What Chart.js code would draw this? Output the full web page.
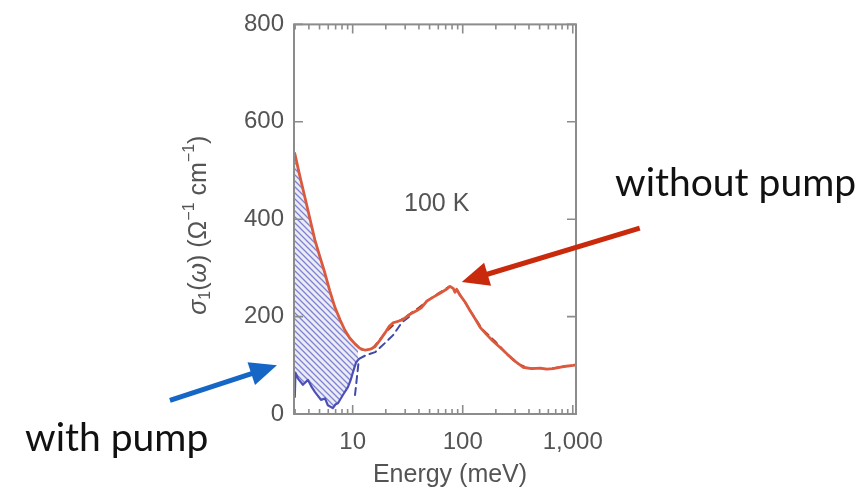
<!DOCTYPE html>
<html>
<head>
<meta charset="utf-8">
<script src="https://cdn.jsdelivr.net/npm/chart.js@4.4.1/dist/chart.umd.min.js"></script>
<style>
  html, body { margin: 0; padding: 0; background: #fff; }
  canvas { display: block; }
</style>
</head>
<body>
<canvas id="c" width="867" height="493"></canvas>
<script>
// Real part of the optical conductivity at 100 K, with and without the pump pulse.

// Without pump: measured spectrum (meV, Ω⁻¹ cm⁻¹)
const energyOff = [2.98, 3.3, 3.68, 4.1, 4.54, 5.05, 5.6, 6.2, 6.9, 7.7, 8.5, 9.4, 10.5, 11.6, 13, 14.5, 15.9, 17.5, 19.6, 21.5, 23.2, 25.5, 28.1, 31, 34.5, 38, 42, 47.3, 54, 62.2, 70, 76.7, 82, 85, 88, 94.5, 105, 116, 130, 144, 165, 188, 220, 253, 300, 353, 420, 505, 580, 662, 800, 1007, 1070];
const sigmaOff  = [535, 490, 445, 400, 357, 322, 289, 253, 219, 193, 172, 156, 144, 135, 131, 133, 138, 150, 166, 180, 187, 190, 193, 200, 207, 212, 218, 232, 240, 248, 255, 262, 258, 250, 256, 244, 230, 213, 195, 178, 163, 150, 136, 123, 108, 96, 93, 94, 92, 93, 97, 100, 101];

// Without pump: model fit
const energyOffFit = [2.98, 3.5, 4, 4.5, 5, 6, 7, 8, 9, 10, 11, 12, 13, 15, 20, 25, 30, 40, 50, 60, 75, 90, 110, 150, 200, 300, 400, 600, 1000, 1070];
const sigmaOffFit  = [522, 452, 402, 356, 316, 250, 207, 178, 158, 144, 136, 132, 131, 134, 168, 188, 199, 219, 236, 248, 262, 253, 222, 175, 148, 106, 94, 93, 100, 101];

// With pump: measured spectrum
const energyOn = [2.98, 3.02, 3.2, 3.53, 3.93, 4.25, 4.55, 5.15, 5.6, 5.95, 6.6, 7.0, 7.35, 8.15, 9.05, 9.6, 10, 10.7, 11.2];
const sigmaOn  = [35, 85, 72, 60, 70, 55, 45, 29, 32, 18, 12, 20, 22, 39, 55, 70, 84, 105, 111];

// With pump: model fit
const energyOnFit = [10.5, 11.4, 13, 16, 19.5, 23.3, 28, 35];
const sigmaOnFit  = [39, 113, 120, 127, 145, 162, 188, 205];

// Axis ticks and labels
const yTicks = [0, 200, 400, 600, 800];
const xMajorTicks = [10, 100, 1000];
const xTickLabels = ['10', '100', '1,000'];
const xMinorTicks = [3, 4, 5, 6, 7, 8, 9, 20, 30, 40, 50, 60, 70, 80, 90, 200, 300, 400, 500, 600, 700, 800, 900];
const xTitle = 'Energy (meV)';
const yTitleParts = [
  { t: 'σ', italic: true },
  { t: '1', sub: true },
  { t: '(' },
  { t: 'ω', italic: true },
  { t: ') (Ω' },
  { t: '−1', sup: true },
  { t: ' cm' },
  { t: '−1', sup: true },
  { t: ')' }
];
const tempLabel = '100 K';
const tempAnchor = { x: 58, y: 431 };
const labelOff = 'without pump';
const labelOn = 'with pump';
const arrowOffTip = { x: 98, y: 271 };
const arrowOnTip = { x: 2.05, y: 100 };

const AXIS_FONT = '"Liberation Sans", Arial, Helvetica, sans-serif';
const NOTE_FONT = 'Lato, "Open Sans", sans-serif';
const AXIS_COLOR = '#545454';

const pts = (xs, ys) => xs.map((x, i) => ({ x, y: ys[i] }));

// Diagonal hatch used for the region between the two spectra
function makeHatch() {
  const s = 6;
  const c = document.createElement('canvas');
  c.width = s; c.height = s;
  const g = c.getContext('2d');
  g.fillStyle = 'rgba(236,236,248,1)';
  g.fillRect(0, 0, s, s);
  g.strokeStyle = 'rgba(108,112,196,0.85)';
  g.lineWidth = 1.3;
  g.beginPath();
  g.moveTo(-1, -1); g.lineTo(s + 1, s + 1);
  g.moveTo(-1, s - 1); g.lineTo(1, s + 1);
  g.moveTo(s - 1, -1); g.lineTo(s + 1, 1);
  g.stroke();
  return g.createPattern(c, 'repeat');
}

function drawArrow(ctx, x0, y0, x1, y1, color) {
  const ang = Math.atan2(y1 - y0, x1 - x0);
  const headLen = 27, headHalf = 12;
  const bx = x1 - headLen * Math.cos(ang), by = y1 - headLen * Math.sin(ang);
  ctx.save();
  ctx.strokeStyle = color;
  ctx.fillStyle = color;
  ctx.lineWidth = 5;
  ctx.beginPath();
  ctx.moveTo(x0, y0);
  ctx.lineTo(bx + 2 * Math.cos(ang), by + 2 * Math.sin(ang));
  ctx.stroke();
  ctx.beginPath();
  ctx.moveTo(x1, y1);
  ctx.lineTo(bx + headHalf * Math.sin(ang), by - headHalf * Math.cos(ang));
  ctx.lineTo(bx - headHalf * Math.sin(ang), by + headHalf * Math.cos(ang));
  ctx.closePath();
  ctx.fill();
  ctx.restore();
}

function drawRich(ctx, parts, size) {
  const small = Math.round(size * 0.65);
  const fontOf = (p) => (p.italic ? 'italic ' : '') + ((p.sub || p.sup) ? small : size) + 'px ' + AXIS_FONT;
  let total = 0;
  parts.forEach(p => { ctx.font = fontOf(p); total += ctx.measureText(p.t).width; });
  let x = -total / 2;
  parts.forEach(p => {
    ctx.font = fontOf(p);
    const dy = p.sub ? size * 0.25 : (p.sup ? -size * 0.38 : 0);
    ctx.fillText(p.t, x, dy);
    x += ctx.measureText(p.t).width;
  });
}

const frameAndNotes = {
  id: 'frameAndNotes',
  afterDraw(chart) {
    const { ctx, chartArea: a, scales } = chart;
    const xs = scales.x, ys = scales.y;
    ctx.save();

    // frame
    ctx.strokeStyle = '#8c8c8c';
    ctx.lineWidth = 2;
    ctx.strokeRect(a.left, a.top, a.right - a.left, a.bottom - a.top);

    // inward ticks
    ctx.lineWidth = 1.6;
    ctx.beginPath();
    yTicks.forEach(v => {
      const y = ys.getPixelForValue(v);
      ctx.moveTo(a.left, y); ctx.lineTo(a.left + 9, y);
      ctx.moveTo(a.right, y); ctx.lineTo(a.right - 9, y);
    });
    const xTick = (v, len) => {
      const x = xs.getPixelForValue(v);
      ctx.moveTo(x, a.bottom); ctx.lineTo(x, a.bottom - len);
      ctx.moveTo(x, a.top); ctx.lineTo(x, a.top + len);
    };
    xMinorTicks.forEach(v => xTick(v, 5));
    xMajorTicks.forEach(v => xTick(v, 9));
    ctx.stroke();

    // axis titles
    ctx.fillStyle = AXIS_COLOR;
    ctx.textAlign = 'center';
    ctx.textBaseline = 'middle';
    ctx.font = '25px ' + AXIS_FONT;
    ctx.fillText(xTitle, (a.left + a.right) / 2 + 15, 475);

    ctx.save();
    ctx.translate(199, (a.top + a.bottom) / 2 + 6);
    ctx.rotate(-Math.PI / 2);
    ctx.textAlign = 'left';
    drawRich(ctx, yTitleParts, 25);
    ctx.restore();

    // temperature label
    ctx.font = '25px ' + AXIS_FONT;
    ctx.textAlign = 'center';
    ctx.fillText(tempLabel, xs.getPixelForValue(tempAnchor.x), ys.getPixelForValue(tempAnchor.y));

    // arrows pointing at the two spectra
    const rx = xs.getPixelForValue(arrowOffTip.x), ry = ys.getPixelForValue(arrowOffTip.y);
    drawArrow(ctx, rx + 178, ry - 54, rx, ry, '#c92a0c');
    const bx = xs.getPixelForValue(arrowOnTip.x), by = ys.getPixelForValue(arrowOnTip.y);
    drawArrow(ctx, bx - 107, by + 35, bx, by, '#1666c6');

    // annotation labels
    ctx.fillStyle = '#111';
    ctx.textAlign = 'left';
    ctx.textBaseline = 'alphabetic';
    ctx.font = '39px ' + NOTE_FONT;
    ctx.fillText(labelOff, 615, 196);
    ctx.fillText(labelOn, 25, 451);

    ctx.restore();
  }
};

const hatch = makeHatch();

new Chart(document.getElementById('c'), {
  type: 'line',
  data: {
    datasets: [
      {
        label: 'without pump (fit)',
        data: pts(energyOffFit, sigmaOffFit),
        borderColor: '#a8321e',
        borderWidth: 1.6,
        borderDash: [7, 5],
        fill: false,
        order: 3
      },
      {
        label: 'with pump (fit)',
        data: pts(energyOnFit, sigmaOnFit),
        borderColor: '#3d4aa8',
        borderWidth: 2,
        borderDash: [7, 5],
        fill: false,
        order: 2
      },
      {
        label: labelOff,
        data: pts(energyOff, sigmaOff),
        borderColor: '#db5a3e',
        borderWidth: 2.8,
        fill: false,
        order: 0
      },
      {
        label: labelOn,
        data: pts(energyOn, sigmaOn),
        borderColor: '#4d4fb8',
        borderWidth: 2.2,
        backgroundColor: hatch,
        fill: '-1',
        order: 1
      }
    ]
  },
  options: {
    responsive: false,
    animation: false,
    devicePixelRatio: 1,
    layout: { padding: { left: 0, right: 291, top: 24, bottom: 0 } },
    plugins: { legend: { display: false }, tooltip: { enabled: false } },
    elements: { point: { radius: 0 }, line: { tension: 0, borderJoinStyle: 'round', borderCapStyle: 'round' } },
    scales: {
      x: {
        type: 'logarithmic',
        min: 2.93,
        max: 1070,
        grid: { display: false, drawTicks: false },
        border: { display: false },
        afterBuildTicks: s => { s.ticks = xMajorTicks.map(v => ({ value: v })); },
        afterFit: s => { s.height = 79; },
        ticks: {
          padding: 14,
          color: AXIS_COLOR,
          autoSkip: false,
          maxRotation: 0,
          font: { family: AXIS_FONT, size: 24 },
          callback: (v, i) => xTickLabels[i]
        }
      },
      y: {
        min: 0,
        max: 800,
        grid: { display: false, drawTicks: false },
        border: { display: false },
        afterBuildTicks: s => { s.ticks = yTicks.map(v => ({ value: v })); },
        afterFit: s => { s.width = 294; },
        ticks: {
          padding: 10,
          color: AXIS_COLOR,
          font: { family: AXIS_FONT, size: 24 },
          callback: v => String(v)
        }
      }
    }
  },
  plugins: [frameAndNotes]
});
</script>
</body>
</html>
